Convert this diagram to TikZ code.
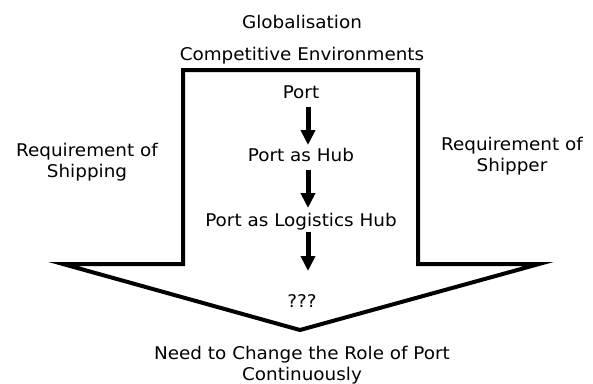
\documentclass[tikz,border=0pt]{standalone}
\usepackage{fontspec}
\setmainfont{DejaVu Sans}[FakeStretch=1.05]
\usetikzlibrary{arrows.meta}
\begin{document}
\begin{tikzpicture}[x=1pt,y=-1pt,
  lbl/.style={font=\fontsize{17.5}{21}\selectfont, inner sep=0pt, align=center, anchor=base},
  stage/.style={lbl},
  flow/.style={line width=5pt, -{Triangle[width=14pt,length=15pt]}},
  bigarrow/.style={line width=4pt, line join=miter}]
\useasboundingbox (0,0) rectangle (593,383);
% outline of the large downward arrow
\coordinate (tl) at (183,70);
\coordinate (tr) at (418,70);
\coordinate (br) at (418,264);
\coordinate (bl) at (183,264);
\coordinate (hr) at (539,264);
\coordinate (hl) at (63,264);
\coordinate (tip) at (300,330);
\draw[bigarrow] (tl) -- (tr) -- (br) -- (hr) -- (tip) -- (hl) -- (bl) -- cycle;

% surrounding labels (base anchor of a two-line node is its last line)
\node[lbl] (glob) at (302,28) {Globalisation};
\node[lbl] (comp) at (302,60) {Competitive Environments};
\node[lbl] (ship) at (87,177) {Requirement of\\Shipping};
\node[lbl] (shpr) at (512,171) {Requirement of\\Shipper};
\node[lbl] (need) at (302,380) {Need to Change the Role of Port\\Continuously};

% stages inside the arrow
\node[stage] (port) at (301,98) {Port};
\node[stage] (hub) at (301,161) {Port as Hub};
\node[stage] (log) at (301,226) {Port as Logistics Hub};
\node[stage] (unk) at (302,307) {???};

\coordinate (a1s) at (308,107); \coordinate (a1e) at (308,145);
\coordinate (a2s) at (308,170); \coordinate (a2e) at (308,208);
\coordinate (a3s) at (308,232); \coordinate (a3e) at (308,271);
\draw[flow] (a1s) -- (a1e);
\draw[flow] (a2s) -- (a2e);
\draw[flow] (a3s) -- (a3e);
\end{tikzpicture}
\end{document}
